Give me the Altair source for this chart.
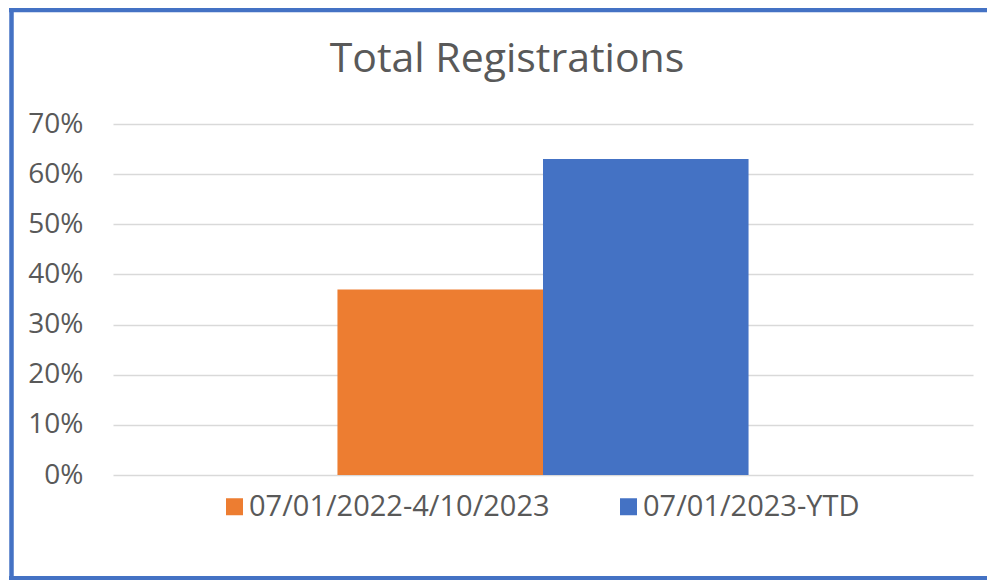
import altair as alt
import pandas as pd

category = ["Total"]
series = ["07/01/2022-4/10/2023", "07/01/2023-YTD"]
values = [0.37, 0.63]
colors = ["#ED7D31", "#4472C4"]
y_ticks = [0, 0.1, 0.2, 0.3, 0.4, 0.5, 0.6, 0.7]

df = pd.DataFrame({"cat": category * len(series), "series": series, "value": values})

FONT = "Open Sans"
GRAY = "#595959"
PW, PH = 860, 351
PAD = {"left": 105, "top": 116, "right": 14, "bottom": 105}

bars = alt.Chart(df).mark_bar().encode(
    x=alt.X("cat:N", axis=None,
            scale=alt.Scale(paddingInner=0, paddingOuter=0.546)),
    xOffset=alt.XOffset("series:N", sort=series,
                        scale=alt.Scale(paddingInner=0, paddingOuter=0)),
    y=alt.Y("value:Q",
            scale=alt.Scale(domain=[0, 0.7], nice=False),
            axis=alt.Axis(values=y_ticks, format=".0%", title=None,
                          domain=False, ticks=False, tickSize=0,
                          labelPadding=30, labelFont=FONT, labelFontSize=28,
                          labelColor=GRAY, grid=True, gridColor="#d9d9d9",
                          gridWidth=1.5)),
    color=alt.Color("series:N", sort=series,
                    scale=alt.Scale(domain=series, range=colors),
                    legend=alt.Legend(title=None, orient="none",
                                      direction="horizontal",
                                      legendX=107, legendY=368,
                                      symbolType="square", symbolSize=289,
                                      symbolStrokeWidth=0, labelFont=FONT,
                                      labelFontSize=29, labelColor=GRAY,
                                      labelOffset=0, columnPadding=64,
                                      labelLimit=600, padding=0)),
)

frame_data = alt.Data(values=[{"k": 1}])
BLUE = "#4472C4"
BOTTOM = PH + PAD["bottom"]
left_edge = alt.Chart(frame_data).mark_rule(color=BLUE, strokeWidth=4.5).encode(
    x=alt.value(-101.5), y=alt.value(-116), y2=alt.value(BOTTOM))
top_edge = alt.Chart(frame_data).mark_rule(color=BLUE, strokeWidth=4.5).encode(
    x=alt.value(-104), x2=alt.value(PW + 20), y=alt.value(-114))
bottom_edge = alt.Chart(frame_data).mark_rule(color=BLUE, strokeWidth=4).encode(
    x=alt.value(-104), x2=alt.value(PW + 20), y=alt.value(BOTTOM - 2))

chart = alt.layer(bars, left_edge, top_edge, bottom_edge).properties(
    width=PW, height=PH,
    autosize=alt.AutoSizeParams(type="none"),
    padding=PAD,
    title=alt.TitleParams("Total Registrations", font=FONT, fontSize=41,
                          fontWeight="normal", color=GRAY, anchor="middle",
                          frame="group", dx=-36, offset=-107,
                          baseline="alphabetic"),
).configure(background="white").configure_view(stroke=None, strokeWidth=0)

chart.save("out.html", embed_options={"renderer": "svg", "actions": False})
